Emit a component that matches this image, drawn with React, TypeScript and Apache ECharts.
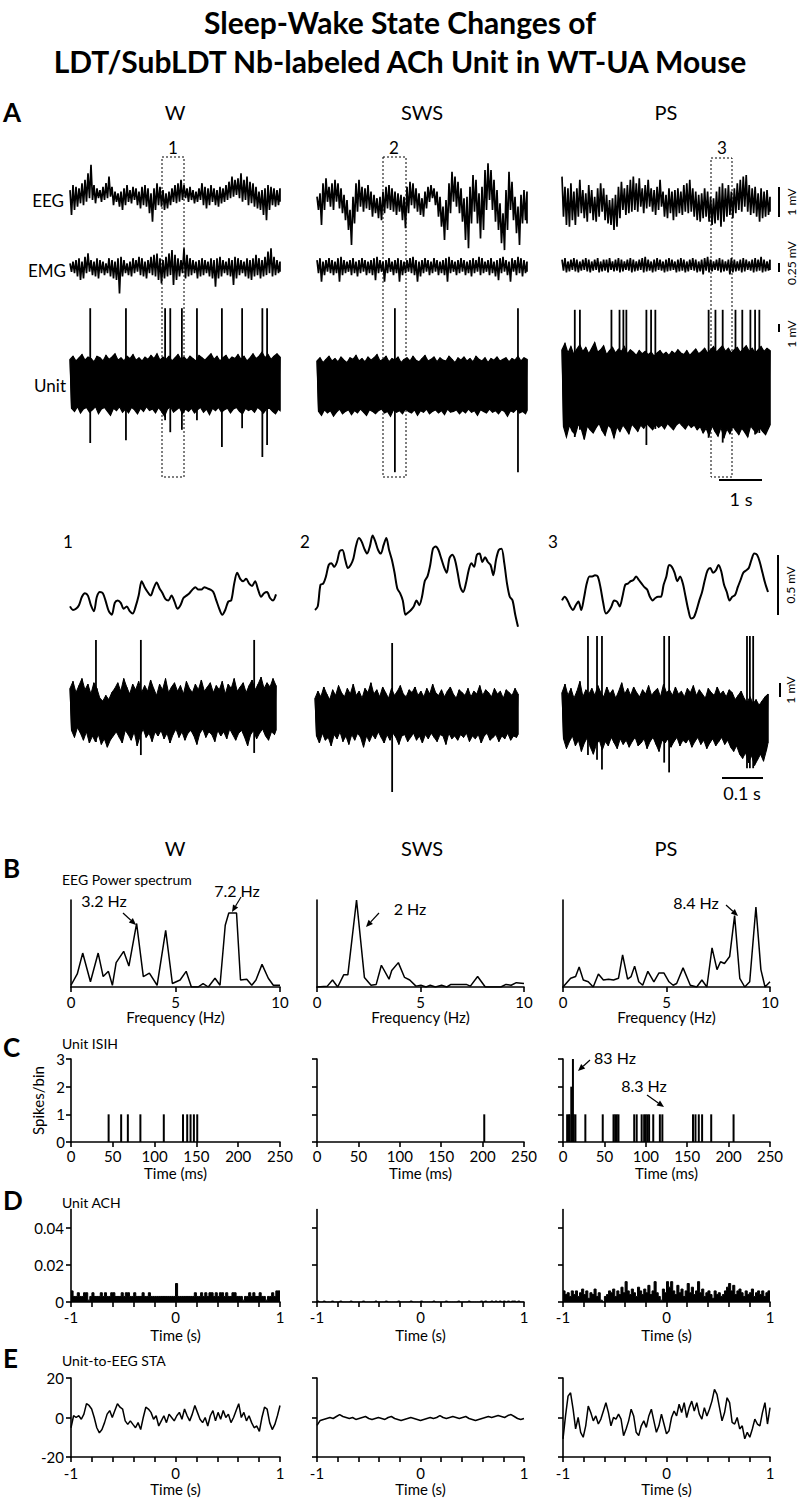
import React, { useEffect, useRef } from "react";
import * as echarts from "echarts";

const FONT = "Lato, 'Open Sans', 'Liberation Sans', sans-serif";

// ---------------- DATA ----------------
const states = ["W", "SWS", "PS"];
const traceLabels = ["EEG", "EMG", "Unit"];
const boxLabels = ["1", "2", "3"];
const rawDuration = 4.88; // s
const zoomDuration = 0.5; // s

// Panel A — EEG envelopes (mV)
const eegWHi = [0.33,0.5,0.44,0.39,0.56,0.67,0.89,1.17,0.5,0.39,0.33,0.44,0.56,0.78,0.44,0.28,0.22,0.28,0.39,0.5,0.33,0.44,0.39,0.28,0.44,0.5,0.39,0.22,0.39,0.56,0.44,0.33,0.22,0.28,0.39,0.5,0.56,0.67,0.5,0.39,0.44,0.33,0.28,0.39,0.56,0.44,0.39,0.5,0.39,0.33,0.44,0.39,0.5,0.61,0.78,0.67,0.72,0.89,0.67,0.78,0.61,0.56,0.44,0.28,0.33,0.39,0.5,0.44,0.39,0.33,0.39];
const eegWLo = [-0.5,-0.33,-0.22,-0.11,-0.17,-0.06,0.06,0,-0.11,0.06,-0.06,0,0.06,0.11,-0.17,-0.06,-0.22,-0.33,-0.17,-0.06,-0.11,0,-0.17,-0.28,-0.17,-0.22,-0.44,-0.72,-0.33,-0.17,-0.22,-0.33,-0.28,-0.17,-0.06,-0.11,-0.06,0,0.06,-0.06,0,-0.11,-0.06,0,-0.17,-0.28,-0.17,-0.06,-0.17,-0.22,-0.11,-0.06,0,0.06,0.11,0.17,0.06,-0.06,0,-0.17,-0.11,-0.22,-0.28,-0.33,-0.5,-0.67,-0.33,-0.17,-0.22,-0.17,-0.06];
const eegSHi = [0.11,0.22,0.56,0.72,0.44,0.56,0.67,0.56,0.39,0.17,0,-0.33,0.11,0.56,0.67,0.44,0.39,0.5,0.28,0.17,0.06,0.11,0.28,0.44,0.5,0.39,0.28,0.22,0.17,0.11,0.44,0.61,0.56,0.39,0.22,0.06,0.28,0.44,0.5,0.39,0.28,0.11,-0.22,0,0.56,0.94,0.78,0.61,0.39,0.06,0.11,0.44,0.83,0.67,0.22,0.44,1.0,1.22,1.0,0.67,0.33,-0.11,-0.44,0.33,0.94,0.61,0.11,-0.22,0.17,0.33,0.28];
const eegSLo = [-0.33,-0.83,-0.33,-0.06,-0.22,-0.33,-0.06,-0.28,-0.44,-0.67,-1.0,-1.5,-0.78,-0.39,-0.22,-0.39,-0.28,-0.33,-0.56,-0.44,-0.61,-0.67,-0.44,-0.28,-0.33,-0.39,-0.5,-0.39,-0.67,-0.94,-0.44,-0.17,-0.28,-0.39,-0.5,-0.56,-0.28,-0.06,0.06,-0.17,-0.56,-0.89,-1.33,-1.0,-0.44,-0.06,-0.22,-0.44,-0.72,-1.33,-1.61,-0.78,-0.39,-0.78,-1.28,-1.0,-0.33,0,-0.33,-0.72,-1.0,-1.44,-1.67,-1.0,-0.33,-0.67,-1.11,-1.5,-0.78,-0.67,-0.78];
const eegPHi = [0.78,0.44,0.39,0.56,0.28,0.39,0.67,0.33,0.22,0.5,0.33,0.11,0.39,0.56,0.39,0.17,0,0.06,0.17,0.44,0.61,0.39,0.5,0.67,0.78,0.56,0.72,0.39,0.5,0.67,0.39,0.33,0.44,0.67,0.28,0.17,0.39,0.28,0.33,0.39,0.28,0.5,0.56,0.67,0.39,0.28,0.17,0.22,0.39,0.28,0.11,0.06,0.28,0.44,0.56,0.39,0.5,0.28,0.39,0.56,0.67,0.78,0.83,0.5,0.39,0.44,0.22,0.39,0.28,0.33,0.11];
const eegPLo = [-0.56,-0.83,-0.89,-0.67,-0.83,-0.56,-0.44,-0.61,-0.72,-0.44,-0.67,-0.72,-0.56,-0.39,-0.67,-0.78,-0.83,-1.0,-0.89,-0.61,-0.33,-0.5,-0.44,-0.39,-0.33,-0.39,-0.22,-0.44,-0.28,-0.22,-0.39,-0.5,-0.33,-0.22,-0.56,-0.61,-0.44,-0.67,-0.56,-0.44,-0.5,-0.39,-0.44,-0.39,-0.56,-0.67,-0.72,-0.61,-0.56,-0.72,-0.83,-0.78,-0.67,-0.89,-0.72,-0.56,-0.5,-0.61,-0.44,-0.33,-0.39,-0.22,-0.39,-0.5,-0.44,-0.56,-0.72,-0.61,-0.56,-0.5,-0.39];

// Panel A — EMG envelopes (mV)
const emgWHi = [0.1,0.15,0.19,0.24,0.15,0.28,0.37,0.19,0.15,0.24,0.19,0.15,0.1,0.24,0.19,0.15,0.24,0.28,0.19,0.1,0.15,0.24,0.19,0.28,0.24,0.15,0.19,0.28,0.33,0.37,0.24,0.19,0.28,0.37,0.46,0.33,0.24,0.19,0.51,0.33,0.24,0.19,0.15,0.19,0.24,0.19,0.15,0.24,0.19,0.24,0.28,0.19,0.15,0.24,0.19,0.28,0.24,0.19,0.15,0.24,0.19,0.24,0.33,0.24,0.19,0.28,0.42,0.51,0.28,0.19,0.15];
const emgWLo = [-0.13,-0.17,-0.26,-0.35,-0.31,-0.17,-0.13,-0.22,-0.26,-0.31,-0.17,-0.22,-0.17,-0.26,-0.31,-0.35,-0.72,-0.26,-0.17,-0.22,-0.26,-0.17,-0.13,-0.22,-0.26,-0.31,-0.17,-0.22,-0.26,-0.35,-0.45,-0.31,-0.26,-0.22,-0.49,-0.35,-0.26,-0.17,-0.31,-0.26,-0.22,-0.17,-0.31,-0.26,-0.22,-0.17,-0.26,-0.31,-0.54,-0.31,-0.26,-0.17,-0.22,-0.26,-0.49,-0.31,-0.22,-0.17,-0.26,-0.31,-0.35,-0.26,-0.22,-0.31,-0.26,-0.22,-0.17,-0.26,-0.22,-0.17,-0.13];
const emgSHi = [0.19,0.24,0.15,0.19,0.24,0.19,0.15,0.24,0.28,0.19,0.15,0.19,0.24,0.15,0.19,0.24,0.19,0.15,0.19,0.24,0.28,0.19,0.15,0.19,0.24,0.15,0.19,0.24,0.19,0.15,0.19,0.24,0.28,0.19,0.15,0.19,0.24,0.19,0.15,0.24,0.19,0.15,0.19,0.24,0.28,0.19,0.15,0.19,0.24,0.19,0.15,0.19,0.24,0.19,0.28,0.24,0.15,0.19,0.24,0.15,0.19,0.24,0.28,0.19,0.15,0.24,0.19,0.28,0.24,0.19,0.15];
const emgSLo = [-0.17,-0.4,-0.22,-0.13,-0.17,-0.22,-0.17,-0.4,-0.22,-0.17,-0.13,-0.22,-0.17,-0.26,-0.17,-0.13,-0.22,-0.17,-0.22,-0.36,-0.17,-0.13,-0.4,-0.17,-0.13,-0.22,-0.17,-0.4,-0.22,-0.17,-0.13,-0.17,-0.22,-0.4,-0.26,-0.17,-0.13,-0.22,-0.17,-0.13,-0.22,-0.17,-0.22,-0.4,-0.17,-0.13,-0.22,-0.17,-0.13,-0.22,-0.17,-0.26,-0.17,-0.13,-0.22,-0.17,-0.13,-0.22,-0.17,-0.26,-0.36,-0.17,-0.13,-0.22,-0.4,-0.13,-0.22,-0.17,-0.26,-0.17,-0.13];
const emgPHi = [0.2,0.24,0.15,0.2,0.24,0.2,0.15,0.2,0.24,0.2,0.15,0.2,0.24,0.15,0.2,0.2,0.24,0.15,0.2,0.24,0.2,0.15,0.2,0.24,0.2,0.15,0.2,0.24,0.28,0.2,0.15,0.2,0.24,0.2,0.15,0.2,0.24,0.2,0.15,0.2,0.24,0.2,0.15,0.2,0.24,0.2,0.15,0.2,0.24,0.28,0.2,0.15,0.2,0.24,0.2,0.15,0.2,0.24,0.2,0.15,0.2,0.24,0.2,0.15,0.2,0.24,0.2,0.28,0.2,0.15,0.2];
const emgPLo = [-0.1,-0.15,-0.12,-0.08,-0.12,-0.15,-0.1,-0.08,-0.12,-0.15,-0.1,-0.08,-0.15,-0.12,-0.1,-0.15,-0.08,-0.12,-0.1,-0.15,-0.12,-0.08,-0.1,-0.15,-0.12,-0.1,-0.08,-0.15,-0.12,-0.1,-0.15,-0.12,-0.08,-0.1,-0.15,-0.12,-0.1,-0.08,-0.15,-0.12,-0.1,-0.15,-0.12,-0.08,-0.1,-0.15,-0.12,-0.2,-0.1,-0.15,-0.12,-0.08,-0.1,-0.15,-0.12,-0.1,-0.2,-0.15,-0.12,-0.1,-0.15,-0.12,-0.08,-0.1,-0.15,-0.12,-0.1,-0.15,-0.12,-0.1,-0.08];

// Panel A — unit noise envelopes (mV)
const unitWHi = [3.2,3.6,3.0,3.4,3.8,3.1,3.5,3.3,2.9,3.6,3.4,3.0,3.7,3.2,3.5,3.9,3.1,3.4,3.0,3.6,3.3,3.8,3.1,3.4,3.0,3.5,3.2,3.7,3.3,3.9,3.1,3.5,3.2,3.6,3.0,3.4,3.8,3.2,3.5,3.1,3.6,3.3,3.0,3.7,3.4,3.1,3.5,3.9,3.2,3.6,3.0,3.4,3.7,3.1,3.5,3.3,3.8,3.2,3.6,3.0,3.4,3.9,3.3,3.6,4.1,3.4,3.8,3.2,3.6,3.9,3.5];
const unitWLo = [-2.9,-3.3,-2.7,-3.5,-3.0,-2.8,-3.4,-3.1,-2.7,-3.6,-3.0,-2.8,-3.3,-3.8,-2.9,-3.2,-2.7,-3.4,-3.0,-3.5,-2.8,-3.1,-3.6,-2.9,-3.3,-2.7,-3.2,-3.0,-3.5,-2.8,-3.3,-3.9,-3.0,-2.7,-3.4,-3.1,-2.8,-3.6,-3.0,-3.3,-2.9,-3.5,-3.1,-2.8,-3.4,-3.0,-3.7,-2.9,-3.2,-2.8,-3.4,-3.1,-2.9,-3.5,-3.0,-2.8,-3.3,-3.6,-2.9,-3.2,-3.0,-3.4,-2.8,-3.1,-3.5,-3.0,-2.9,-3.3,-3.6,-3.0,-3.2];
const unitSHi = [3.0,3.4,2.8,3.2,3.6,3.0,3.3,2.9,3.5,3.1,2.8,3.4,3.2,3.7,3.0,3.3,2.9,3.5,3.1,3.4,3.8,3.0,3.2,3.6,2.9,3.3,3.1,3.5,2.8,3.2,3.4,3.0,3.6,3.1,2.9,3.3,3.7,3.0,3.2,3.5,2.9,3.4,3.1,3.0,3.6,3.2,2.8,3.4,3.1,3.5,3.0,3.3,2.9,3.6,3.2,3.0,3.4,2.8,3.3,3.1,3.5,3.0,3.2,3.4,2.9,3.3,3.1,3.6,3.0,3.4,3.2];
const unitSLo = [-3.3,-3.8,-3.1,-3.5,-3.2,-3.9,-3.4,-3.0,-3.6,-3.3,-3.1,-3.7,-3.2,-3.5,-3.0,-3.4,-3.8,-3.1,-3.3,-3.6,-3.2,-3.0,-3.5,-3.3,-3.9,-3.1,-3.4,-3.2,-3.6,-3.0,-3.3,-3.5,-3.1,-3.8,-3.2,-3.4,-3.0,-3.6,-3.3,-3.1,-3.5,-3.2,-3.7,-3.0,-3.4,-3.3,-3.1,-3.6,-3.2,-3.5,-3.0,-3.4,-3.2,-3.8,-3.1,-3.3,-3.5,-3.0,-3.4,-3.2,-3.6,-3.1,-3.3,-3.9,-3.2,-3.4,-3.0,-3.5,-3.3,-3.6,-3.2];
const unitPHi = [4.4,5.2,4.0,4.8,3.8,4.5,5.0,4.2,4.7,3.9,4.6,5.3,4.1,4.4,4.9,3.8,4.3,4.7,4.0,4.5,4.2,4.8,3.9,4.4,4.1,3.7,4.3,3.9,4.2,3.8,4.1,3.6,4.0,4.3,3.8,4.1,3.7,4.2,3.9,4.4,4.0,3.8,4.3,3.7,4.1,4.5,3.9,4.2,4.6,4.0,4.4,4.8,4.1,4.5,4.9,4.2,4.6,4.0,4.4,4.7,4.1,4.5,4.9,4.2,4.6,4.0,4.4,4.8,4.2,4.6,4.3];
const unitPLo = [-5.2,-6.5,-5.0,-5.8,-6.2,-4.9,-5.5,-6.8,-5.1,-5.6,-6.0,-5.3,-4.8,-5.7,-6.3,-5.0,-5.4,-6.6,-5.2,-5.8,-5.0,-5.5,-6.1,-4.9,-5.3,-5.8,-5.0,-5.4,-4.8,-5.2,-5.6,-4.9,-5.3,-5.0,-5.5,-4.8,-5.2,-5.6,-5.0,-4.7,-5.1,-5.5,-4.9,-5.3,-5.0,-5.6,-5.2,-6.0,-5.4,-6.3,-5.1,-5.8,-6.4,-5.3,-6.6,-5.5,-6.1,-5.2,-5.7,-6.2,-5.4,-5.9,-6.5,-5.1,-5.6,-6.0,-5.3,-5.8,-6.2,-5.4,-5.0];

// Panel A — spikes: [time s, top mV, bottom mV]
const spikesW = [[0.47,9.6,-7.25],[1.30,9.6,-6.9],[2.21,9.6,-4.4],[2.33,9.6,-5.9],[2.60,9.6,-5.6],[2.95,9.6,-4.4],[3.53,9.6,-7.75],[4.0,9.6,-5.4],[4.47,9.6,-9.0],[4.58,9.6,-7.5]];
const spikesS = [[1.81,9.6,-10.9],[4.67,9.6,-10.9]];
const spikesP = [[0.30,9.4,-6.5],[0.42,9.4,-5.6],[1.16,9.4,-3.1],[1.35,9.4,-4.0],[1.44,9.4,-4.5],[1.51,9.4,-4.8],[1.98,9.4,-7.5],[2.09,9.4,-5.0],[2.19,9.4,-5.5],[3.44,9.4,-6.6],[3.60,9.4,-5.6],[3.77,9.4,-7.2],[4.07,9.4,-5.0],[4.23,9.4,-5.3],[4.42,9.4,-5.2],[4.53,9.4,-6.2],[4.63,9.4,-6.0]];

// Expanded EEG (mV)
const exEeg1 = [-0.22,-0.25,-0.24,-0.21,-0.14,-0.11,-0.13,-0.21,-0.26,-0.14,-0.10,-0.11,-0.18,-0.26,-0.29,-0.19,-0.17,-0.19,-0.24,-0.22,-0.26,-0.28,-0.22,-0.13,-0.01,-0.06,-0.10,-0.13,-0.07,-0.02,-0.07,-0.11,-0.16,-0.17,-0.13,-0.18,-0.24,-0.21,-0.15,-0.13,-0.11,-0.08,-0.06,-0.08,-0.08,-0.06,-0.07,-0.08,-0.10,-0.17,-0.24,-0.29,-0.25,-0.18,-0.17,-0.03,0.06,0.01,-0.01,0.01,-0.03,-0.05,-0.01,-0.08,-0.14,-0.11,-0.10,-0.15,-0.17,-0.12];
const exEeg2 = [-0.25,-0.22,-0.04,-0.03,0.03,0.125,0.14,0.11,0.15,0.24,0.25,0.17,0.10,0.125,0.18,0.29,0.35,0.32,0.26,0.22,0.28,0.37,0.32,0.25,0.22,0.29,0.35,0.25,0.17,0.06,-0.07,-0.11,-0.17,-0.29,-0.27,-0.25,-0.22,-0.17,-0.21,-0.14,-0.01,0.03,0.125,0.26,0.28,0.25,0.18,0.11,0.06,0.18,0.21,0.17,0.06,-0.06,-0.10,-0.03,0.08,0.14,0.11,0.21,0.22,0.15,0.19,0.15,0.125,0.04,0.17,0.25,0.26,0.14,-0.03,-0.14,-0.17,-0.29,-0.39];
const exEeg3 = [-0.17,-0.14,-0.17,-0.22,-0.25,-0.21,-0.18,-0.25,-0.15,-0.03,0.03,0.03,0.04,0.03,-0.06,-0.19,-0.28,-0.26,-0.22,-0.17,-0.18,-0.22,-0.14,-0.04,-0.03,-0.01,0,0.03,0,-0.03,-0.06,-0.08,-0.14,-0.17,-0.15,-0.14,-0.14,-0.04,0.03,0.125,0.11,0.06,-0.01,0.03,-0.03,-0.14,-0.25,-0.32,-0.31,-0.25,-0.17,-0.10,0,0.08,0.10,0.06,0.08,0.125,0.07,-0.04,-0.10,-0.17,-0.14,-0.125,-0.06,0,0.06,0.08,0.10,0.17,0.22,0.21,0.15,0.06,-0.03,-0.10];

// Expanded unit envelopes (mV)
const exU1Hi = [1.9,2.4,1.6,2.1,2.6,1.8,2.2,1.5,2.3,1.9,1.2,1.0,1.4,1.1,1.6,1.9,2.3,1.7,2.6,2.0,1.5,2.2,1.8,2.4,1.6,2.1,1.7,2.5,1.9,1.4,2.2,1.8,2.6,1.6,2.0,2.3,1.7,2.1,1.5,2.4,1.9,1.6,2.2,1.8,2.5,1.7,2.0,2.3,1.6,2.1,1.8,2.4,1.5,2.2,1.9,2.6,1.7,2.0,2.3,1.6,2.1,2.5,1.8,2.2,2.7,1.9,2.3,2.0,2.6,2.1];
const exU1Lo = [-1.1,-1.6,-0.9,-1.3,-1.8,-1.2,-2.0,-1.5,-1.9,-1.4,-2.1,-1.7,-2.3,-1.8,-1.5,-1.2,-1.6,-2.0,-1.1,-1.4,-1.8,-1.2,-2.2,-1.5,-1.0,-1.6,-1.3,-1.9,-1.2,-1.5,-1.1,-1.7,-1.3,-2.0,-1.4,-1.0,-1.6,-1.2,-1.8,-1.3,-1.1,-1.5,-2.1,-1.3,-1.0,-1.6,-1.2,-1.4,-1.9,-1.1,-1.5,-1.2,-1.7,-1.0,-1.4,-1.8,-1.3,-1.1,-1.6,-2.2,-1.4,-1.1,-1.7,-1.3,-1.0,-1.5,-1.8,-1.2,-1.4,-1.1];
const exU2Hi = [1.2,1.7,1.3,2.0,1.5,1.1,1.8,1.4,2.1,1.6,1.3,1.9,1.5,2.2,1.4,1.7,1.2,1.9,1.6,2.3,1.5,1.8,1.3,2.0,1.6,1.2,1.9,1.4,1.7,2.1,1.5,1.3,1.8,1.6,2.0,1.4,1.7,1.3,1.9,1.5,2.2,1.6,1.4,1.8,1.3,1.7,2.0,1.5,1.2,1.8,1.6,1.4,1.9,1.3,1.7,1.5,2.1,1.4,1.8,1.6,1.3,1.9,1.5,1.7,1.2,1.8,1.6,1.4,1.9,1.5];
const exU2Lo = [-1.5,-2.0,-1.3,-1.8,-1.6,-2.2,-1.4,-1.7,-1.2,-1.9,-1.5,-2.1,-1.4,-1.8,-1.3,-1.6,-2.3,-1.5,-1.9,-1.4,-1.7,-1.2,-1.6,-2.0,-1.4,-1.8,-1.3,-1.6,-2.1,-1.5,-1.4,-1.9,-1.6,-1.3,-1.8,-1.5,-2.0,-1.4,-1.7,-1.3,-1.6,-1.9,-1.4,-1.5,-2.1,-1.3,-1.7,-1.5,-1.8,-1.4,-1.6,-1.3,-1.9,-1.5,-1.7,-1.4,-2.0,-1.5,-1.3,-1.8,-1.6,-1.4,-1.9,-1.5,-1.7,-1.3,-1.8,-1.5,-1.6,-1.4];
const exU3Hi = [1.6,2.2,1.4,1.9,1.2,1.7,2.4,1.3,1.8,1.5,1.9,1.4,2.1,1.6,1.3,2.0,1.5,1.8,1.2,1.7,2.3,1.5,1.9,1.4,2.0,1.6,1.3,1.8,1.5,2.1,1.4,1.7,1.9,1.3,2.2,1.6,1.8,1.4,2.0,1.5,1.7,1.3,1.9,1.6,2.1,1.4,1.8,1.5,1.2,1.9,1.6,1.4,2.0,1.5,1.7,1.3,1.8,1.6,1.1,1.4,1.7,1.2,0.9,1.3,0.8,1.1,0.7,1.0,1.3,1.5];
const exU3Lo = [-1.7,-2.4,-1.9,-1.5,-2.2,-1.8,-2.6,-2.0,-1.6,-2.3,-2.8,-2.1,-1.8,-2.5,-1.9,-2.2,-1.6,-2.0,-2.4,-1.7,-2.1,-1.8,-2.3,-1.9,-1.6,-2.2,-2.0,-1.7,-2.4,-1.9,-1.6,-2.1,-2.6,-1.8,-2.0,-1.7,-2.3,-1.9,-1.6,-2.2,-1.8,-2.0,-1.7,-2.3,-1.9,-1.6,-2.1,-1.8,-2.4,-2.0,-1.7,-2.2,-1.9,-1.6,-2.1,-1.8,-2.3,-2.6,-2.2,-2.8,-3.1,-2.7,-3.4,-2.9,-3.6,-3.2,-2.8,-3.3,-2.5,-2.0];
const exSpikes1 = [[0.063,5.36,-1.93],[0.172,5.36,-2.86],[0.447,5.36,-2.71]];
const exSpikes2 = [[0.19,5.14,-5.5]];
const exSpikes3 = [[0.063,5.64,-2.86],[0.085,5.64,-3.2],[0.097,5.64,-3.9],[0.248,5.64,-3.4],[0.26,5.64,-4.1],[0.449,5.64,-3.8],[0.456,5.64,-3.8],[0.464,5.64,-3.8]];

// Panel B — EEG power spectra (Hz, relative power %)
const psdWf = [0,0.3,0.56,0.93,1.3,1.54,1.79,1.98,2.16,2.52,2.77,3.14,3.46,3.75,4.12,4.53,4.85,5.22,5.51,5.76,6.08,6.32,6.57,6.89,7.13,7.38,7.55,7.92,8.11,8.41,8.65,8.85,9.14,9.44,9.68,10];
const psdWp = [2,15,39,6,39,12,18,2,28,41,24,73,12,16,2,65,4,8,18,0,0,4,0,10,2,71,85,85,8,9,2,8,26,10,2,2];
const psdSf = [0,0.5,0.75,1.0,1.29,1.49,1.91,2.29,2.61,2.86,3.11,3.48,3.61,3.93,4.23,4.48,4.78,5.02,5.27,5.47,5.72,6.02,6.27,6.47,6.84,7.21,7.41,7.76,8.13,8.51,8.88,9.13,9.38,9.63,10];
const psdSp = [0,1,8,0,14,14,100,11,2,3,25,9,19,28,11,8,1,2,0,2,0,2,0,3,3,3,1,12,0,0,0,3,2,5,4];
const psdPf = [0,0.37,0.61,0.78,0.98,1.22,1.46,1.71,1.95,2.2,2.44,2.68,2.88,3.12,3.29,3.46,3.66,3.85,4.1,4.39,4.63,4.88,5.12,5.32,5.49,5.8,6.15,6.46,6.71,6.95,7.2,7.44,7.61,7.8,8.05,8.29,8.54,8.78,9.02,9.32,9.56,9.76,10];
const psdPp = [0,10,12,23,8,6,0,15,8,9,8,10,37,9,12,24,6,2,18,6,16,16,6,2,4,22,2,0,8,0,45,20,29,27,35,82,10,0,6,92,20,0,6];
const peakLabelsB = ["3.2 Hz", "7.2 Hz", "2 Hz", "8.4 Hz"];

// Panel C — ISI histograms (ms, spikes/bin)
const isiWt = [45,60,68,83,111,134,139,143,147,151];
const isiWn = [1,1,1,1,1,1,1,1,1,1];
const isiSt = [202];
const isiSn = [1];
const isiPt = [5,7,8,10,12,13,15,27,48,61,63,65,67,86,89,95,98,100,102,104,109,117,120,157,160,164,168,179,206];
const isiPn = [1,1,1,2,3,1,1,1,1,1,1,1,1,1,1,1,1,1,1,1,1,1,1,1,1,1,1,1,1];
const isiTicks = [0, 50, 100, 150, 200, 250];
const peakLabelsC = ["83 Hz", "8.3 Hz"];

// Panel D — autocorrelation histograms (100 bins, -1..1 s)
const achTicks = [0, 0.02, 0.04];
const achW = [0.006,0.003,0.003,0.005,0.003,0.003,0.005,0.005,0.001,0.003,0.005,0.003,0.003,0.003,0.005,0.003,0.005,0.003,0.003,0.005,0.005,0.003,0.003,0.003,0.005,0.003,0.005,0.005,0.003,0.003,0.005,0.003,0.003,0.003,0.005,0.003,0.003,0.005,0.003,0.003,0.003,0.003,0.003,0.003,0.003,0.003,0.003,0.003,0.003,0.003,0.01,0.003,0.003,0.003,0.003,0.003,0.003,0.003,0.003,0.005,0.003,0.003,0.005,0.003,0.005,0.003,0.005,0.005,0.003,0.005,0.003,0.005,0.005,0.003,0.005,0.003,0.003,0.005,0.005,0.003,0.003,0.003,0.001,0.003,0.003,0.005,0.003,0.005,0.003,0.003,0.005,0.003,0.003,0.001,0.003,0.003,0.005,0.003,0.006,0.006];
const achS = [0.0005,0,0,0.0005,0,0,0,0.0005,0,0,0,0.0005,0,0,0,0,0.0005,0,0,0,0,0,0.0005,0,0,0,0,0,0.0005,0,0,0,0,0.0005,0,0,0,0,0,0.0005,0,0,0,0,0,0.0005,0,0,0,0,0.0005,0,0,0,0,0,0.0005,0,0,0,0,0,0.0005,0,0,0,0,0,0.0005,0,0,0,0,0.0005,0,0,0,0,0,0.0005,0,0.0005,0,0,0.0005,0,0.0005,0,0.0005,0,0.0005,0,0.0005,0,0.0005,0.0005,0,0.0005,0,0];
const achP = [0.006,0.004,0.005,0.003,0.006,0.004,0.006,0.003,0.005,0.007,0.004,0.006,0.002,0.005,0.004,0.007,0.003,0.005,0.001,0,0.003,0.004,0.006,0.005,0.007,0.003,0.006,0.004,0.008,0.005,0.011,0.006,0.004,0.007,0.005,0.003,0.008,0.006,0.004,0.007,0.005,0.009,0.004,0.006,0.011,0.005,0.003,0.001,0.007,0.005,0.011,0.008,0.011,0.006,0.004,0.009,0.005,0.007,0.003,0.006,0.01,0.005,0.008,0.004,0.006,0.011,0.005,0.007,0.003,0.005,0.006,0.004,0.002,0.006,0.004,0.005,0.003,0.004,0.006,0.008,0.01,0.006,0.009,0.004,0.006,0.007,0.005,0.003,0.006,0.004,0.005,0.007,0.003,0.005,0.006,0.004,0.006,0.003,0.005,0.006];

// Panel E — spike-triggered averages (-1..1 s)
const staW = [-5.2,0.9,0,0.9,-0.9,1.7,7.0,6.1,4.3,0,-5.2,-7.8,-6.1,-2.6,1.7,3.5,0,3.5,7.0,5.2,4.3,-1.7,-3.5,-1.7,-3.5,-5.2,-2.6,-6.1,0,5.2,4.3,2.6,-0.9,0.9,-4.3,-1.7,0.9,-2.6,1.7,0,-1.7,0.9,2.6,-0.9,4.3,0.9,-1.7,1.7,6.1,2.6,-0.9,-2.6,0,-4.3,0.9,3.5,-1.7,2.6,-0.9,3.5,0,1.7,-2.6,0,3.5,7.0,0,2.6,-1.7,0.9,-2.6,-5.2,-4.3,-7.0,0,5.2,4.3,-2.6,-6.1,-3.5,0.9,6.1];
const staS = [-4,-1.5,-1,-0.5,0,-0.5,0.5,1.5,0.5,0,-0.5,0,-1,-0.5,0,0.5,-0.5,-1,-0.5,0,-0.5,-1,0,0.5,-0.5,-1,-1.5,-1,-0.5,0,-0.5,-1,-1.5,-1,-0.5,0,-0.5,0,1,0,-0.5,0,0.5,0,-0.5,0,0.5,-0.5,-1,-1.5,-1,-0.5,0,0.5,0,0.5,1,0.5,0,1,1.5,0.5,-0.5,-1,-0.5];
const staP = [-10.8,0.8,10.8,12.5,4.2,-5.8,0,-7.5,-10,-4.2,5.8,2.5,-1.7,0.8,-3.3,-0.8,3.3,7.5,2.5,-4.2,0,-0.8,1.7,-0.8,-9.2,-5.8,-1.7,4.2,0.8,-7.5,-9.2,-4.2,-1.7,-5,0.8,4.2,-1.7,-7.5,-4.2,1.7,-3.3,-8.3,-6.7,0,3.3,0.8,6.7,2.5,7.5,0,5,8.3,3.3,7.5,1.7,-0.8,5,0.8,4.2,8.3,14.2,11.7,5,-1.7,2.5,10,7.5,-2.5,-3.3,0,-5.8,-4.2,-10.8,-7.5,-10,-5.8,-0.8,-3.3,-4.2,2.5,7.5,-3.3,5];

// ---------------- LAYOUT ----------------
const colsA = [{ left: 70, width: 210 }, { left: 317, width: 210 }, { left: 562, width: 208 }];
const colsZ = [{ left: 70, width: 206 }, { left: 315, width: 203 }, { left: 562, width: 206 }];
const colsP = [{ left: 71, width: 209 }, { left: 317, width: 207 }, { left: 563, width: 207 }];

function zig(hi: number[], lo: number[], dur: number) {
  const n = Math.min(hi.length, lo.length);
  const dt = dur / (n - 1);
  const out: number[][] = [];
  for (let i = 0; i < n; i++) {
    out.push([i * dt, hi[i]]);
    out.push([i < n - 1 ? i * dt + dt / 2 : i * dt, lo[i]]);
  }
  return out;
}
function evenly(vals: number[], x0: number, x1: number) {
  const n = vals.length;
  return vals.map((v, i) => [x0 + ((x1 - x0) * i) / (n - 1), v]);
}
function pairs(xs: number[], ys: number[]) {
  const n = Math.min(xs.length, ys.length);
  const out: number[][] = [];
  for (let i = 0; i < n; i++) out.push([xs[i], ys[i]]);
  return out;
}
function bins(vals: number[], x0: number, x1: number) {
  const w = (x1 - x0) / vals.length;
  const out = vals.map((v, i) => [x0 + i * w, v]);
  out.push([x1, vals[vals.length - 1]]);
  return out;
}

function buildOption() {
  const grids: any[] = [];
  const xAxes: any[] = [];
  const yAxes: any[] = [];
  const series: any[] = [];
  const addGrid = (left: number, top: number, width: number, height: number, x: any, y: any) => {
    const i = grids.length;
    grids.push({ left, top, width, height, show: false });
    xAxes.push({ gridIndex: i, ...x });
    yAxes.push({ gridIndex: i, ...y });
    return i;
  };
  const hid = (min: number, max: number) => ({ type: "value", min, max, show: false, splitLine: { show: false } });
  const lineS = (gi: number, data: any[], width: number) => ({
    type: "line", xAxisIndex: gi, yAxisIndex: gi, data, symbol: "none", silent: true,
    lineStyle: { color: "#000", width }, animation: false,
  });
  const segS = (gi: number, data: any[], width: number) => ({
    type: "custom", xAxisIndex: gi, yAxisIndex: gi, silent: true, clip: false,
    dimensions: ["x", "a", "b"], encode: { x: 0, y: [1, 2] }, data,
    renderItem: (_p: any, api: any) => {
      const a = api.coord([api.value(0), api.value(1)]);
      const b = api.coord([api.value(0), api.value(2)]);
      return { type: "line", shape: { x1: a[0], y1: a[1], x2: b[0], y2: b[1] }, style: { stroke: "#000", lineWidth: width } };
    },
  });
  // filled noise band between upper and lower envelopes (polygon through the library's coordinate system)
  const bandS = (gi: number, hi: number[], lo: number[], dur: number, stroke: number) => {
    const zz = zig(hi, lo, dur);
    const up = zz.filter((_, i) => i % 2 === 0);
    const dn = zz.filter((_, i) => i % 2 === 1);
    return {
      type: "custom", xAxisIndex: gi, yAxisIndex: gi, silent: true, clip: false,
      data: [[0, 0]],
      renderItem: (_p: any, api: any) => {
        const pts = up.map((p) => api.coord(p)).concat(dn.slice().reverse().map((p) => api.coord(p)));
        return {
          type: "group",
          children: [
            { type: "polygon", shape: { points: pts }, style: { fill: "#000", stroke: "#000", lineWidth: stroke, lineJoin: "miter" } },
            { type: "polyline", shape: { points: zz.map((p) => api.coord(p)) }, style: { fill: "none", stroke: "#000", lineWidth: 1 } },
          ],
        };
      },
    };
  };

  // Panel A
  const eegHi = [eegWHi, eegSHi, eegPHi], eegLo = [eegWLo, eegSLo, eegPLo];
  const emgHi = [emgWHi, emgSHi, emgPHi], emgLo = [emgWLo, emgSLo, emgPLo];
  const uHi = [unitWHi, unitSHi, unitPHi], uLo = [unitWLo, unitSLo, unitPLo];
  const spikes = [spikesW, spikesS, spikesP];
  for (let c = 0; c < 3; c++) {
    const { left, width } = colsA[c];
    let g = addGrid(left, 147.5, width, 105, hid(0, rawDuration), hid(-1.75, 1.75));
    series.push(lineS(g, zig(eegHi[c], eegLo[c], rawDuration), 1.7));
    g = addGrid(left, 239.5, width, 55, hid(0, rawDuration), hid(-0.75, 0.75));
    series.push(lineS(g, zig(emgHi[c], emgLo[c], rawDuration), 1.7));
    g = addGrid(left, 295, width, 180, hid(0, rawDuration), hid(-11.25, 11.25));
    series.push(bandS(g, uHi[c], uLo[c], rawDuration, 1.2));
    series.push(segS(g, spikes[c], 1.8));
  }
  // Expanded
  const exEeg = [exEeg1, exEeg2, exEeg3];
  const exHi = [exU1Hi, exU2Hi, exU3Hi], exLo = [exU1Lo, exU2Lo, exU3Lo];
  const exSp = [exSpikes1, exSpikes2, exSpikes3];
  for (let c = 0; c < 3; c++) {
    const { left, width } = colsZ[c];
    let g = addGrid(left, 530, width, 100, hid(0, zoomDuration), hid(-0.4167, 0.4167));
    series.push({ ...lineS(g, evenly(exEeg[c], 0, zoomDuration), 2), smooth: 0.3 });
    g = addGrid(left, 630, width, 170, hid(0, zoomDuration), hid(-6.07, 6.07));
    series.push(bandS(g, exHi[c], exLo[c], zoomDuration, 1));
    series.push(segS(g, exSp[c], 1.8));
  }

  const axLine = { show: true, onZero: false, lineStyle: { color: "#000", width: 1.6 } };
  const axTick = { show: true, inside: false, length: 5, lineStyle: { color: "#000", width: 1.6 } };
  const lbl = (show: boolean, margin: number) => ({ show, color: "#000", fontSize: 15, margin, fontFamily: FONT });
  const nm = { color: "#000", fontSize: 15, fontFamily: FONT };

  // Panel B
  const psd = [pairs(psdWf, psdWp), pairs(psdSf, psdSp), pairs(psdPf, psdPp)];
  for (let c = 0; c < 3; c++) {
    const { left, width } = colsP[c];
    const g = addGrid(left, 900, width, 87,
      { type: "value", min: 0, max: 10, interval: 5, axisLine: axLine, axisTick: axTick, axisLabel: lbl(true, 7), splitLine: { show: false },
        name: "Frequency (Hz)", nameLocation: "middle", nameGap: 19, nameTextStyle: nm },
      { type: "value", min: 0, max: 100, axisLine: axLine, axisTick: { show: false }, axisLabel: { show: false }, splitLine: { show: false } });
    series.push(lineS(g, psd[c], 1.5));
  }

  // Panel C
  const isi = [pairs(isiWt, isiWn), pairs(isiSt, isiSn), pairs(isiPt, isiPn)];
  for (let c = 0; c < 3; c++) {
    const { left, width } = colsP[c];
    const g = addGrid(left, 1059, width, 83,
      { type: "value", min: isiTicks[0], max: isiTicks[isiTicks.length - 1], interval: 50, axisLine: axLine, axisTick: axTick, axisLabel: lbl(true, 6), splitLine: { show: false },
        name: "Time (ms)", nameLocation: "middle", nameGap: 23, nameTextStyle: nm },
      { type: "value", min: 0, max: 3, interval: 1, axisLine: axLine, axisTick: axTick, axisLabel: lbl(c === 0, 6), splitLine: { show: false },
        ...(c === 0 ? { name: "Spikes/bin", nameLocation: "middle", nameGap: 26, nameTextStyle: nm } : {}) });
    series.push(segS(g, isi[c].map((p) => [p[0], 0, p[1]]), 2));
  }

  // Panel D
  const ach = [achW, achS, achP];
  for (let c = 0; c < 3; c++) {
    const { left, width } = colsP[c];
    const g = addGrid(left, 1209.5, width, 92.5,
      { type: "value", min: -1, max: 1, interval: 1, axisLine: axLine, axisTick: axTick,
        minorTick: { show: true, splitNumber: 5, length: 5, lineStyle: { color: "#000", width: 1.6 } },
        axisLabel: lbl(true, 7), splitLine: { show: false }, minorSplitLine: { show: false },
        name: "Time (s)", nameLocation: "middle", nameGap: 25, nameTextStyle: nm },
      { type: "value", min: 0, max: 0.05, interval: 0.01, axisLine: axLine,
        axisTick: { ...axTick, customValues: achTicks },
        axisLabel: { ...lbl(c === 0, 7), customValues: achTicks }, splitLine: { show: false } });
    series.push({ ...lineS(g, bins(ach[c], -1, 1), 1), step: "end", areaStyle: { color: "#000", opacity: 1 } });
  }

  // Panel E
  const sta = [staW, staS, staP];
  for (let c = 0; c < 3; c++) {
    const { left, width } = colsP[c];
    const g = addGrid(left, 1378, width, 79,
      { type: "value", min: -1, max: 1, interval: 1, axisLine: axLine, axisTick: axTick,
        minorTick: { show: true, splitNumber: 5, length: 5, lineStyle: { color: "#000", width: 1.6 } },
        axisLabel: lbl(true, 8), splitLine: { show: false }, minorSplitLine: { show: false },
        name: "Time (s)", nameLocation: "middle", nameGap: 24, nameTextStyle: nm },
      { type: "value", min: -20, max: 20, interval: 20, axisLine: axLine, axisTick: axTick, axisLabel: lbl(c === 0, 7), splitLine: { show: false } });
    series.push(lineS(g, evenly(sta[c], -1, 1), 1.5));
  }

  // ---------- graphics (labels, scale bars, boxes, arrows) ----------
  const els: any[] = [];
  const txt = (text: string, x: number, y: number, size: number, opts: any = {}) => {
    els.push({
      type: "text", x, y, rotation: opts.rot || 0, silent: true,
      style: { text, x: 0, y: 0, fill: "#000", fontSize: size, fontFamily: FONT, fontWeight: opts.bold ? "bold" : "normal",
        align: opts.align || "center", verticalAlign: "middle" },
    });
  };
  const ln = (x1: number, y1: number, x2: number, y2: number, w = 2) =>
    els.push({ type: "line", silent: true, shape: { x1, y1, x2, y2 }, style: { stroke: "#000", lineWidth: w } });
  const arrow = (x1: number, y1: number, x2: number, y2: number) => {
    const a = Math.atan2(y2 - y1, x2 - x1);
    const L = 7, W = 3;
    const bx = x2 - L * Math.cos(a), by = y2 - L * Math.sin(a);
    const px = -Math.sin(a) * W, py = Math.cos(a) * W;
    ln(x1, y1, bx, by, 1.2);
    els.push({ type: "polygon", silent: true, shape: { points: [[x2, y2], [bx + px, by + py], [bx - px, by - py]] }, style: { fill: "#000" } });
  };

  txt("Sleep-Wake State Changes of", 400, 22, 30, { bold: true });
  txt("LDT/SubLDT Nb-labeled ACh Unit in WT-UA Mouse", 400, 61, 30, { bold: true });
  txt("A", 3, 112, 26, { bold: true, align: "left" });
  const hdrX = [175, 422, 666];
  states.forEach((s, i) => txt(s, hdrX[i], 112, 20));
  const boxNumX = [173, 394, 722];
  boxLabels.forEach((s, i) => txt(s, boxNumX[i], 147, 17));
  txt(traceLabels[0], 64, 200, 17, { align: "right" });
  txt(traceLabels[1], 66, 270, 17, { align: "right" });
  txt(traceLabels[2], 66, 385, 17, { align: "right" });
  // dotted boxes
  [[162, 157, 22, 320], [383, 157, 23, 320], [711, 158, 21, 319]].forEach(([x, y, w, h]) =>
    els.push({ type: "rect", silent: true, shape: { x, y, width: w, height: h }, style: { fill: "none", stroke: "#000", lineWidth: 1, lineDash: [2, 2] } }));
  // scale bars A
  ln(779, 187, 779, 217); txt("1 mV", 791, 202, 12, { rot: Math.PI / 2 });
  ln(779, 263, 779, 272); txt("0.25 mV", 791, 263, 12, { rot: Math.PI / 2 });
  ln(779, 324, 779, 332); txt("1 mV", 791, 334, 12, { rot: Math.PI / 2 });
  ln(719, 480, 762, 480); txt("1 s", 741, 499, 18);
  // expanded labels
  const exNumX = [68, 305, 553];
  boxLabels.forEach((s, i) => txt(s, exNumX[i], 541, 17));
  ln(778, 555, 778, 615); txt("0.5 mV", 790, 585, 12, { rot: Math.PI / 2 });
  ln(780, 683, 780, 697); txt("1 mV", 790, 690, 12, { rot: Math.PI / 2 });
  ln(722, 778, 763, 778); txt("0.1 s", 742, 793, 18);
  // Panel B
  states.forEach((s, i) => txt(s, hdrX[i], 848, 20));
  txt("B", 3, 868, 26, { bold: true, align: "left" });
  txt("EEG Power spectrum", 62, 879, 14, { align: "left" });
  txt(peakLabelsB[0], 104, 900, 16); arrow(123, 913, 136, 925);
  txt(peakLabelsB[1], 237, 890, 16); arrow(241, 897, 232, 912);
  txt(peakLabelsB[2], 410, 908, 16); arrow(379, 913, 366, 927);
  txt(peakLabelsB[3], 696, 902, 16); arrow(726, 905, 738, 916);
  // Panel C
  txt("C", 3, 1047, 26, { bold: true, align: "left" });
  txt("Unit ISIH", 62, 1043, 14, { align: "left" });
  txt(peakLabelsC[0], 615, 1057, 16); arrow(590, 1060, 578, 1071);
  txt(peakLabelsC[1], 644, 1085, 16); arrow(647, 1095, 664, 1107);
  // Panel D
  txt("D", 3, 1200, 26, { bold: true, align: "left" });
  txt("Unit ACH", 62, 1202, 14, { align: "left" });
  // Panel E
  txt("E", 3, 1358, 26, { bold: true, align: "left" });
  txt("Unit-to-EEG STA", 62, 1360, 14, { align: "left" });

  return {
    animation: false,
    backgroundColor: "#fff",
    textStyle: { fontFamily: FONT },
    grid: grids,
    xAxis: xAxes,
    yAxis: yAxes,
    series,
    graphic: { elements: els },
  };
}

export default function App() {
  const ref = useRef<HTMLDivElement>(null);
  useEffect(() => {
    document.body.style.margin = "0";
    const chart = echarts.init(ref.current as HTMLDivElement, null, { renderer: "svg" });
    chart.setOption(buildOption() as any);
    return () => chart.dispose();
  }, []);
  return <div ref={ref} style={{ width: 800, height: 1501, background: "#fff" }} />;
}
